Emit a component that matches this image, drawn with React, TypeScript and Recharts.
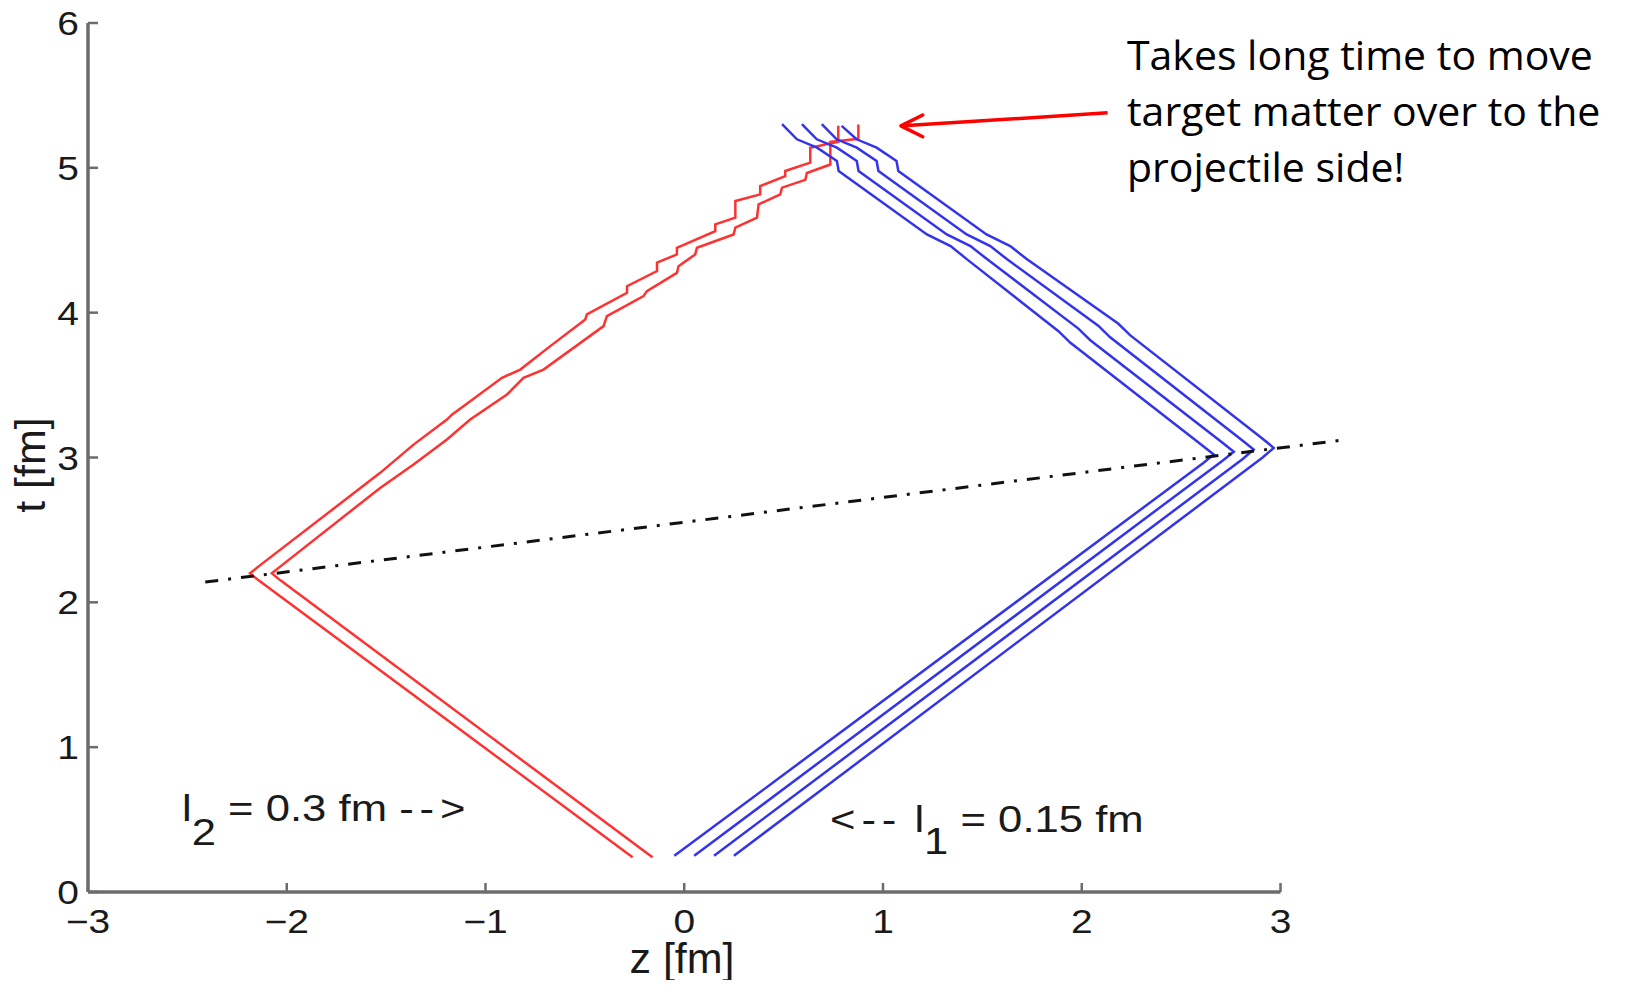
import React from 'react';
import { LineChart, Line, XAxis, YAxis, ReferenceLine } from 'recharts';

// ---- tick labels ----
const zTicks = [-3, -2, -1, 0, 1, 2, 3];
const tTicks = [0, 1, 2, 3, 4, 5, 6];

// ---- red worldlines (l2 = 0.3 fm) ----
const redOuter = [
  { z: -0.26, t: 0.24 },
  { z: -2.14, t: 2.15 },
  { z: -2.185, t: 2.2 },
  { z: -2.14, t: 2.25 },
  { z: -1.53, t: 2.894 },
  { z: -1.362, t: 3.089 },
  { z: -1.194, t: 3.262 },
  { z: -1.169, t: 3.296 },
  { z: -1.077, t: 3.388 },
  { z: -0.917, t: 3.55 },
  { z: -0.825, t: 3.607 },
  { z: -0.674, t: 3.769 },
  { z: -0.498, t: 3.953 },
  { z: -0.49, t: 3.988 },
  { z: -0.288, t: 4.137 },
  { z: -0.288, t: 4.183 },
  { z: -0.137, t: 4.287 },
  { z: -0.137, t: 4.345 },
  { z: -0.037, t: 4.402 },
  { z: -0.037, t: 4.448 },
  { z: 0.156, t: 4.563 },
  { z: 0.156, t: 4.61 },
  { z: 0.257, t: 4.656 },
  { z: 0.257, t: 4.771 },
  { z: 0.382, t: 4.817 },
  { z: 0.382, t: 4.874 },
  { z: 0.508, t: 4.943 },
  { z: 0.508, t: 4.978 },
  { z: 0.634, t: 5.036 },
  { z: 0.634, t: 5.139 },
  { z: 0.775, t: 5.18 },
  { z: 0.775, t: 5.29 },
];

const redInner = [
  { z: -0.16, t: 0.24 },
  { z: -2.03, t: 2.15 },
  { z: -2.075, t: 2.2 },
  { z: -2.03, t: 2.25 },
  { z: -1.53, t: 2.79 },
  { z: -1.362, t: 2.951 },
  { z: -1.194, t: 3.124 },
  { z: -1.077, t: 3.262 },
  { z: -0.892, t: 3.435 },
  { z: -0.809, t: 3.55 },
  { z: -0.708, t: 3.607 },
  { z: -0.406, t: 3.907 },
  { z: -0.389, t: 3.976 },
  { z: -0.205, t: 4.114 },
  { z: -0.188, t: 4.149 },
  { z: -0.037, t: 4.275 },
  { z: -0.029, t: 4.321 },
  { z: 0.055, t: 4.402 },
  { z: 0.064, t: 4.448 },
  { z: 0.248, t: 4.54 },
  { z: 0.257, t: 4.587 },
  { z: 0.366, t: 4.656 },
  { z: 0.374, t: 4.748 },
  { z: 0.483, t: 4.817 },
  { z: 0.492, t: 4.863 },
  { z: 0.609, t: 4.917 },
  { z: 0.617, t: 4.964 },
  { z: 0.735, t: 5.023 },
  { z: 0.735, t: 5.18 },
  { z: 0.876, t: 5.2 },
  { z: 0.876, t: 5.3 },
];

// ---- blue worldlines (l1 = 0.15 fm) ----
const blue1 = [
  { z: -0.05, t: 0.25 },
  { z: 2.61, t: 2.96 },
  { z: 2.664, t: 3.02 },
  { z: 2.61, t: 3.08 },
  { z: 1.943, t: 3.792 },
  { z: 1.883, t: 3.872 },
  { z: 1.423, t: 4.368 },
  { z: 1.34, t: 4.46 },
  { z: 1.221, t: 4.54 },
  { z: 0.777, t: 4.978 },
  { z: 0.768, t: 5.047 },
  { z: 0.668, t: 5.139 },
  { z: 0.567, t: 5.197 },
  { z: 0.492, t: 5.301 },
];

const blue2 = [
  { z: 0.05, t: 0.25 },
  { z: 2.71, t: 2.98 },
  { z: 2.765, t: 3.04 },
  { z: 2.71, t: 3.1 },
  { z: 2.043, t: 3.81 },
  { z: 1.983, t: 3.89 },
  { z: 1.523, t: 4.37 },
  { z: 1.44, t: 4.46 },
  { z: 1.321, t: 4.54 },
  { z: 0.877, t: 4.978 },
  { z: 0.868, t: 5.047 },
  { z: 0.768, t: 5.139 },
  { z: 0.667, t: 5.197 },
  { z: 0.592, t: 5.301 },
];

const blue3 = [
  { z: 0.15, t: 0.25 },
  { z: 2.81, t: 2.99 },
  { z: 2.865, t: 3.055 },
  { z: 2.81, t: 3.115 },
  { z: 2.143, t: 3.83 },
  { z: 2.083, t: 3.91 },
  { z: 1.623, t: 4.37 },
  { z: 1.54, t: 4.46 },
  { z: 1.421, t: 4.54 },
  { z: 0.977, t: 4.978 },
  { z: 0.968, t: 5.047 },
  { z: 0.868, t: 5.139 },
  { z: 0.767, t: 5.197 },
  { z: 0.692, t: 5.301 },
];

const blue4 = [
  { z: 0.25, t: 0.25 },
  { z: 2.91, t: 3.0 },
  { z: 2.966, t: 3.066 },
  { z: 2.91, t: 3.13 },
  { z: 2.243, t: 3.845 },
  { z: 2.183, t: 3.925 },
  { z: 1.723, t: 4.37 },
  { z: 1.64, t: 4.46 },
  { z: 1.521, t: 4.54 },
  { z: 1.077, t: 4.978 },
  { z: 1.068, t: 5.047 },
  { z: 0.968, t: 5.139 },
  { z: 0.867, t: 5.197 },
  { z: 0.792, t: 5.29 },
];

// ---- dash-dot line through turning points ----
const turnLine = [
  { z: -2.41, t: 2.14 },
  { z: 3.31, t: 3.12 },
];

// ---- annotation arrow ----
const arrowShaft = [
  { z: 2.13, t: 5.38 },
  { z: 1.1, t: 5.29 },
];
const arrowHead = [
  { z: 1.2, t: 5.365 },
  { z: 1.09, t: 5.29 },
  { z: 1.2, t: 5.215 },
];

const annotationLines = [
  'Takes long time to move',
  'target matter over to the',
  'projectile side!',
];

const AXIS = '#6c6c6c';
const RED = '#ff3232';
const BLUE = '#3434ea';
const FONT = '"Liberation Sans", Arial, Helvetica, sans-serif';
const TEXT = '#1a1a1a';
const SX = 1.18; // horizontal stretch of the figure's text

const fmt = (v: number) => (v < 0 ? '\u2212' + Math.abs(v) : String(v));

const XTick = (props: any) => {
  const { x, y, payload } = props;
  return (
    <g>
      <line x1={x} y1={y} x2={x} y2={y - 9} stroke={AXIS} strokeWidth={2.5} />
      <text
        transform={`translate(${x},${y + 41}) scale(${SX},1)`}
        textAnchor="middle"
        fontSize={33}
        fontFamily={FONT}
        fill={TEXT}
      >
        {fmt(payload.value)}
      </text>
    </g>
  );
};

const YTick = (props: any) => {
  const { x, y, payload } = props;
  return (
    <g>
      <line x1={x} y1={y} x2={x + 10} y2={y} stroke={AXIS} strokeWidth={2.5} />
      <text
        transform={`translate(${x - 9},${y + 12}) scale(${SX},1)`}
        textAnchor="end"
        fontSize={33}
        fontFamily={FONT}
        fill={TEXT}
      >
        {fmt(payload.value)}
      </text>
    </g>
  );
};

export default function App() {
  const W = 1629;
  const H = 988;
  const lineProps = {
    dataKey: 't',
    type: 'linear' as const,
    dot: false,
    activeDot: false,
    isAnimationActive: false,
  };
  return (
    <div style={{ margin: '-8px', width: W, height: H, overflow: 'hidden' }}>
      <LineChart width={W} height={H} margin={{ top: 23, right: 269, bottom: 26, left: 18 }}>
        <XAxis
          dataKey="z"
          type="number"
          domain={[-3, 3.4]}
          ticks={zTicks}
          axisLine={false}
          tickLine={false}
          tickSize={0}
          tickMargin={0}
          height={70}
          tick={<XTick />}
          interval={0}
        />
        <YAxis
          type="number"
          domain={[0, 6]}
          ticks={tTicks}
          axisLine={{ stroke: AXIS, strokeWidth: 3.5 }}
          tickLine={false}
          tickSize={0}
          tickMargin={0}
          width={70}
          tick={<YTick />}
          interval={0}
        />
        <ReferenceLine
          segment={[{ x: -3, y: 0 }, { x: 3, y: 0 }]}
          stroke={AXIS}
          strokeWidth={3.5}
        />
        <Line {...lineProps} data={redOuter} stroke={RED} strokeWidth={2.5} />
        <Line {...lineProps} data={redInner} stroke={RED} strokeWidth={2.5} />
        <Line {...lineProps} data={blue1} stroke={BLUE} strokeWidth={2.5} />
        <Line {...lineProps} data={blue2} stroke={BLUE} strokeWidth={2.5} />
        <Line {...lineProps} data={blue3} stroke={BLUE} strokeWidth={2.5} />
        <Line {...lineProps} data={blue4} stroke={BLUE} strokeWidth={2.5} />
        <Line {...lineProps} data={turnLine} stroke="#111" strokeWidth={3} strokeDasharray="13 10 3 10" />
        <Line {...lineProps} data={arrowShaft} stroke="#ff0000" strokeWidth={3.5} />
        <Line {...lineProps} data={arrowHead} stroke="#ff0000" strokeWidth={3.5} strokeLinecap="round" strokeLinejoin="round" />

        {/* axis titles */}
        <text x={682} y={973} textAnchor="middle" fontSize={43} fontFamily={FONT} fill={TEXT}>
          z [fm]
        </text>
        <text
          x={30}
          y={465}
          textAnchor="middle"
          dominantBaseline="central"
          fontSize={43}
          fontFamily={FONT}
          fill={TEXT}
          transform="rotate(-90 30 465)"
        >
          t [fm]
        </text>

        {/* in-plot labels */}
        <text transform={`translate(182,821) scale(${SX},1)`} fontSize={37} fontFamily={FONT} fill={TEXT}>
          <tspan>l</tspan>
          <tspan dy={24}>2</tspan>
          <tspan dy={-24}> = 0.3 fm </tspan>
          <tspan letterSpacing={5}>--&gt;</tspan>
        </text>
        <text transform={`translate(830,832) scale(${SX},1)`} fontSize={37} fontFamily={FONT} fill={TEXT}>
          <tspan letterSpacing={5}>&lt;--</tspan>
          <tspan> l</tspan>
          <tspan dy={22}>1</tspan>
          <tspan dy={-22}> = 0.15 fm</tspan>
        </text>

        {/* annotation */}
        <text x={1127} y={70} fontSize={41} fontFamily={'"Open Sans", sans-serif'} fill="#000">
          {annotationLines.map((s, i) => (
            <tspan key={i} x={1127} dy={i === 0 ? 0 : 56}>
              {s}
            </tspan>
          ))}
        </text>
      </LineChart>
    </div>
  );
}
